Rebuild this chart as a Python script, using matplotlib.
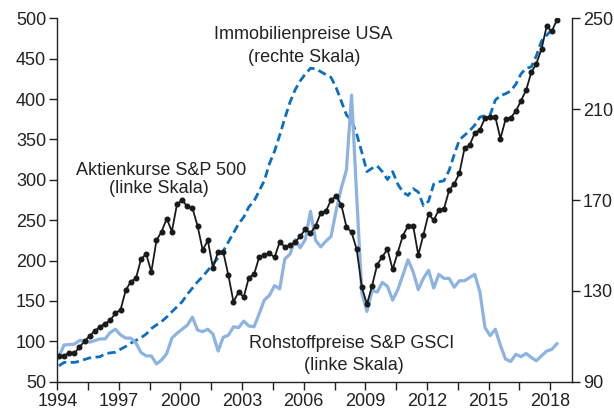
import numpy as np
import pandas as pd
import matplotlib
matplotlib.use('Agg')
import matplotlib.pyplot as plt

plt.rcParams['font.family'] = ['Liberation Sans', 'DejaVu Sans']

# quarterly data, 1994Q1 - 2018Q2
quarters = pd.period_range('1994Q1', '2018Q2', freq='Q')
years = np.array([p.year + (p.quarter - 1) / 4 + 0.08 for p in quarters])

# S&P 500 (linke Skala)
aktien = [82, 82, 86, 85, 93, 100, 107, 113, 118, 122, 126, 135, 139, 163, 174, 178, 202, 208, 186, 225, 236, 252, 236, 270, 275, 267,
          265, 243, 213, 225, 191, 211, 211, 182, 149, 161, 155, 179, 183, 204, 207, 209, 204, 223, 217, 219, 223, 230, 239, 234, 243,
          259, 261, 275, 280, 269, 242, 235, 214, 167, 146, 169, 195, 205, 214, 189, 210, 231, 243, 243, 207, 232, 258, 250, 263, 264, 287,
          295, 308, 339, 343, 358, 362, 377, 378, 378, 351, 375, 377, 385, 398, 411, 433, 444, 462, 490, 484, 498]

# S&P GSCI (linke Skala)
rohstoff = [81, 95.5, 96, 96.5, 101, 101, 99, 101, 103, 103, 111, 115, 108, 104, 104, 98, 86, 82, 82, 72, 77, 85, 104, 110, 115, 120,
            130, 114, 112, 115, 109, 88, 105, 107.5, 118, 117, 125, 119, 118, 134, 151, 157, 169, 165, 202, 208, 226, 216, 226, 261, 225,
            217, 224, 230, 262, 290, 312, 405, 280, 160, 137, 163, 161, 173, 168, 151, 164, 182, 201, 186, 164, 178, 188, 166, 183, 178, 178,
            167, 175, 175, 179, 183, 161, 117, 107, 115, 95, 78, 75, 84, 81, 85, 80, 76, 82, 88, 90, 97]

# Immobilienpreise USA (rechte Skala), bis 2018Q1
immo = [97, 98.5, 98.6, 98.5, 99, 99.8, 100.5, 100.8, 101, 102.3, 102.7, 103, 104.3, 105.5, 107, 108.2, 109.4, 111, 113.4, 115, 116.5, 118.5, 120.8, 123, 125.2, 128.5,
        131.2, 134, 136.3, 139, 141.8, 144.5, 147.5, 151.5, 155.5, 159.5, 162.5, 167, 169.5, 174, 178.5, 186, 191.5, 198.5, 206, 213, 218.5, 222.5, 225.5, 228, 227.8,
        226.5, 225.2, 224, 219.5, 213.5, 207.5, 205, 199, 191, 182.5, 184, 185, 182.5, 179, 182.5, 177, 173.5, 172, 175, 173.5, 167.5, 169.5, 177, 178, 178.5, 183,
        190, 196.5, 198.5, 200.5, 203, 206.5, 207.2, 207.5, 214, 216, 216.8, 218, 221, 225.5, 228, 228.6, 233.5, 240, 242.5, 245]

left_ticks = list(range(50, 501, 50))
right_ticks = [90, 130, 170, 210, 250]
x_ticks = np.arange(1994, 2018.1, 1.5)
x_labels = [str(int(t)) if t == int(t) and (int(t) - 1994) % 3 == 0 else '' for t in x_ticks]

black = '#1a1a1a'
light = '#8db3e2'
dark_blue = '#0a6fc0'
fs = 13

fig = plt.figure(figsize=(6.14, 4.12), dpi=100)
ax = fig.add_axes([0.0933, 0.0735, 0.8378, 0.882])
ax2 = ax.twinx()
ax.set_zorder(ax2.get_zorder() + 1)
ax.patch.set_visible(False)

ax2.plot(years[:len(immo)], immo, color=dark_blue, lw=2.0, dashes=(3, 1.6))
ax.plot(years, rohstoff, color=light, lw=2.3)
ax.plot(years, aktien, color=black, lw=1.3, marker='o', markersize=3.3)

ax.set_xlim(1994, 2019.05)
ax.set_ylim(50, 500)
ax2.set_ylim(90, 250)
ax.set_yticks(left_ticks)
ax2.set_yticks(right_ticks)
ax.set_xticks(x_ticks)
ax.set_xticklabels(x_labels)

for a in (ax, ax2):
    for s in a.spines.values():
        s.set_visible(False)
    a.tick_params(labelsize=fs, colors='#222222', length=6, width=1, pad=2)
ax.spines['left'].set_visible(True)
ax.spines['bottom'].set_visible(True)
ax2.spines['right'].set_visible(True)
for s in (ax.spines['left'], ax.spines['bottom'], ax2.spines['right']):
    s.set_color('#222222')
    s.set_linewidth(1.0)

ax.text(2006.0, 474, 'Immobilienpreise USA', ha='center', va='baseline', fontsize=fs, color='#222222')
ax.text(2006.0, 446, '(rechte Skala)', ha='center', va='baseline', fontsize=fs, color='#222222')
ax.text(1999.07, 306, 'Aktienkurse S&P 500', ha='center', va='baseline', fontsize=fs, color='#222222')
ax.text(1998.95, 284, '(linke Skala)', ha='center', va='baseline', fontsize=fs, color='#222222')
ax.text(2008.32, 91.4, 'Rohstoffpreise S&P GSCI', ha='center', va='baseline', fontsize=fs, color='#222222')
ax.text(2008.45, 64.5, '(linke Skala)', ha='center', va='baseline', fontsize=fs, color='#222222')

fig.savefig('out.png', dpi=100)
